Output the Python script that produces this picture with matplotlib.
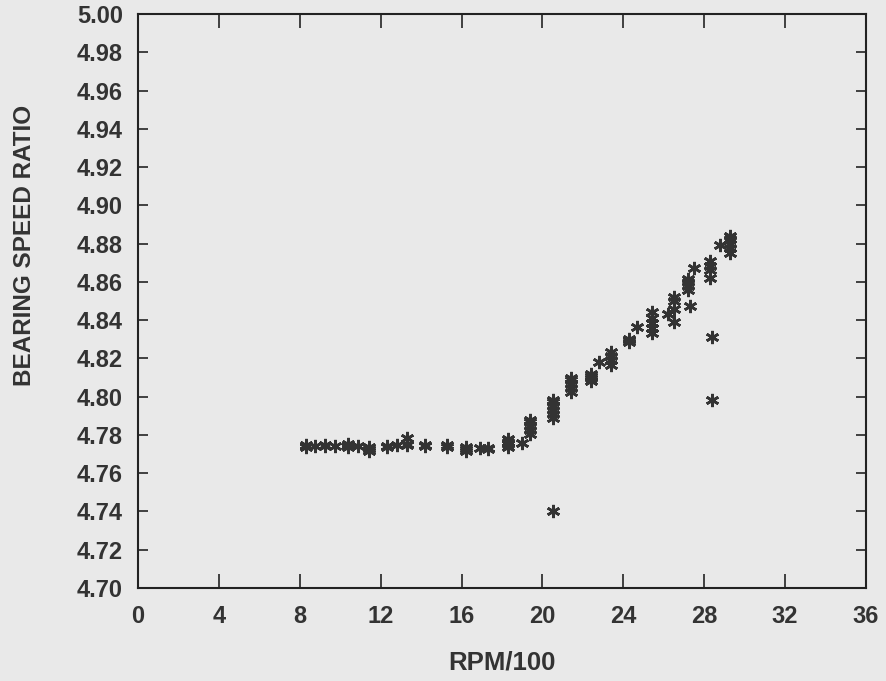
import numpy as np
import matplotlib.pyplot as plt
from matplotlib.ticker import FormatStrFormatter

# measured points (RPM/100, bearing speed ratio)
rpm = [8.3, 8.3, 8.3, 8.75, 9.25, 9.25, 9.75,
       10.4, 10.4, 10.4, 10.4, 10.9, 11.4, 11.4, 11.4,
       12.3, 12.3, 12.8, 13.3, 13.3, 13.3, 14.2, 14.2,
       15.3, 15.3, 16.2, 16.2, 16.2, 16.9, 17.3, 17.3,
       18.3, 18.3, 18.3, 18.3, 19.0,
       19.4, 19.4, 19.4, 19.4, 19.4,
       20.5, 20.5, 20.5, 20.5, 20.5, 20.5, 20.5,
       21.4, 21.4, 21.4, 21.4, 21.4,
       22.4, 22.4, 22.4, 22.4, 22.8,
       23.4, 23.4, 23.4, 23.4,
       24.3, 24.3, 24.3, 24.7,
       25.4, 25.4, 25.4, 25.4, 25.4,
       26.2, 26.5, 26.5, 26.5, 26.5,
       27.3, 27.2, 27.2, 27.2, 27.2, 27.5,
       28.3, 28.3, 28.3, 28.3, 28.4, 28.4,
       28.8, 29.3, 29.3, 29.3, 29.3, 29.3]
ratio = [4.7740, 4.7735, 4.7745, 4.7740, 4.7740, 4.7745, 4.7740,
         4.7745, 4.7740, 4.7750, 4.7735, 4.7742, 4.7735, 4.7725, 4.7715,
         4.7742, 4.7738, 4.7748, 4.7745, 4.7755, 4.7785, 4.7748, 4.7740,
         4.7745, 4.7738, 4.7735, 4.7725, 4.7715, 4.7730, 4.7730, 4.7725,
         4.7750, 4.7735, 4.7765, 4.7780, 4.7760,
         4.7805, 4.7825, 4.7845, 4.7865, 4.7880,
         4.7890, 4.7910, 4.7930, 4.7950, 4.7970, 4.7985, 4.7400,
         4.8025, 4.8045, 4.8065, 4.8085, 4.8100,
         4.8080, 4.8095, 4.8110, 4.8120, 4.8180,
         4.8165, 4.8190, 4.8215, 4.8235,
         4.8285, 4.8295, 4.8300, 4.8365,
         4.8335, 4.8360, 4.8385, 4.8410, 4.8440,
         4.8430, 4.8390, 4.8460, 4.8500, 4.8520,
         4.8475, 4.8560, 4.8580, 4.8600, 4.8615, 4.8670,
         4.8620, 4.8660, 4.8685, 4.8710, 4.8310, 4.7980,
         4.8795, 4.8750, 4.8775, 4.8800, 4.8825, 4.8840]

xticks = np.arange(0, 37, 4)
yticks = np.arange(4.70, 5.001, 0.02)

plt.rcParams['font.family'] = ['Liberation Sans', 'DejaVu Sans']
plt.rcParams['font.weight'] = 'bold'

bg = '#e9e9e9'
ink = '#333333'

fig = plt.figure(figsize=(8.86, 6.81), dpi=100, facecolor=bg)
ax = fig.add_axes([0.1558, 0.1366, 0.8216, 0.8428], facecolor=bg)

ax.plot(rpm, ratio, linestyle='none', marker=(6, 2, 0), markersize=9.5,
        markeredgewidth=1.9, color=ink)

ax.set_xlim(0, 36)
ax.set_ylim(4.70, 5.00)
ax.set_xticks(xticks)
ax.set_yticks(yticks)
ax.yaxis.set_major_formatter(FormatStrFormatter('%.2f'))

ax.tick_params(axis='x', direction='in', length=10, width=1.3, top=True,
               labelsize=17, colors=ink, pad=12)
ax.tick_params(axis='y', direction='in', length=7, width=1.3, right=True,
               labelsize=17, colors=ink, pad=11)
for s in ax.spines.values():
    s.set_linewidth(1.5)
    s.set_color('#222222')

fig.text(502 / 886, 1 - 663 / 681, 'RPM/100', fontsize=18.5, fontweight='bold',
         color=ink, ha='center', va='center')
fig.text(25 / 886, 1 - 245 / 681, 'BEARING SPEED RATIO', fontsize=17.5,
         fontweight='bold', color=ink, ha='center', va='center', rotation=90)

fig.savefig('out.png', dpi=100, facecolor=bg)
